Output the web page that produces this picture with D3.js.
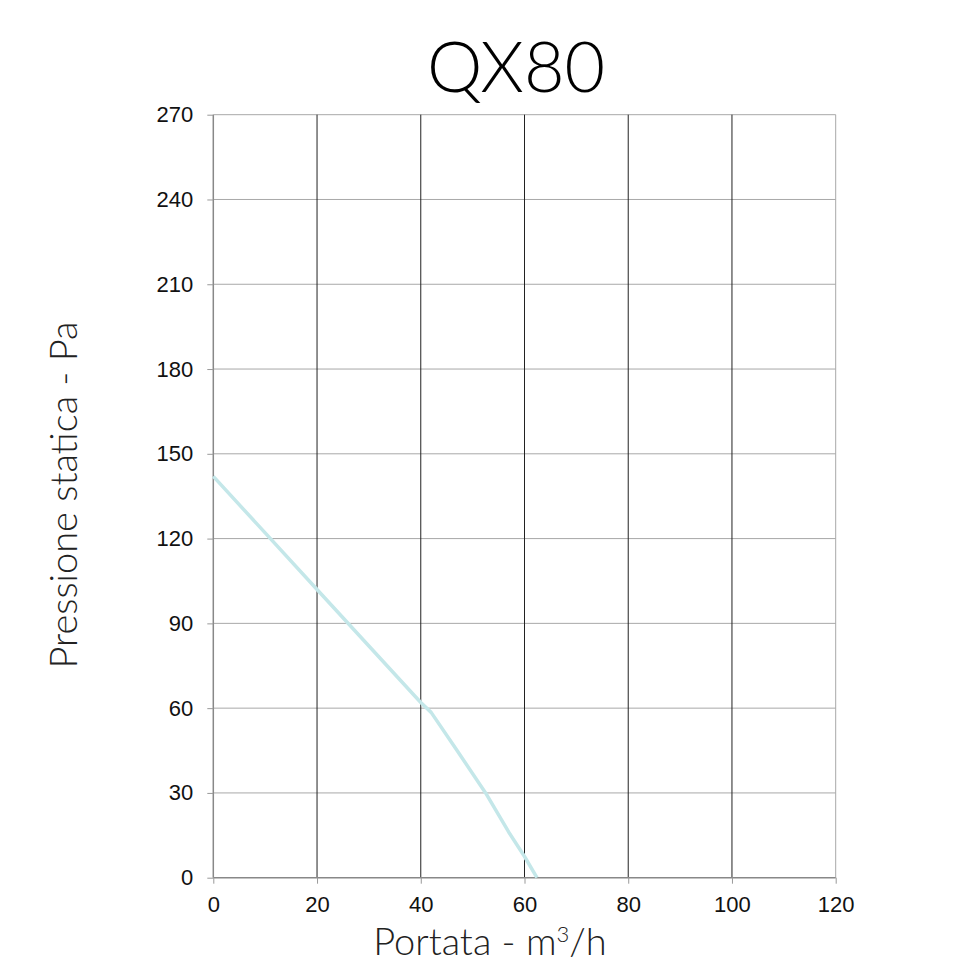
<!DOCTYPE html>
<html><head><meta charset="utf-8">
<script src="https://cdn.jsdelivr.net/npm/d3@7"></script>
<style>
html,body{margin:0;padding:0;background:#fff;}
svg{display:block;}
</style></head>
<body>
<svg id="c" width="980" height="980"></svg>
<script>
const title = "QX80";
const xLabel = "Portata - m";
const yLabel = "Pressione statica - Pa";
const xTicks = [0, 20, 40, 60, 80, 100, 120];
const yTicks = [0, 30, 60, 90, 120, 150, 180, 210, 240, 270];
const flow = [0, 10, 20, 30, 40, 42, 47, 52.5, 57, 60, 62.4];
const pressure = [142, 122, 102, 82, 62, 58.5, 45, 30, 16, 7.5, 0];

const svg = d3.select("#c");
const m = {l: 213.3, r: 835.7, t: 114.7, b: 877.7};
const x = d3.scaleLinear().domain([0, 120]).range([m.l, m.r]);
const y = d3.scaleLinear().domain([0, 270]).range([m.b, m.t]);

// horizontal grid
svg.append("g").selectAll("line").data(yTicks.filter(d => d > 0)).join("line")
  .attr("x1", m.l).attr("x2", m.r).attr("y1", d => y(d)).attr("y2", d => y(d))
  .attr("stroke", "#a8a8a8").attr("stroke-width", 1);
// vertical grid
svg.append("g").selectAll("line").data(xTicks.filter(d => d > 0 && d < 120)).join("line")
  .attr("y1", m.t).attr("y2", m.b).attr("x1", d => x(d)).attr("x2", d => x(d))
  .attr("stroke", "#222").attr("stroke-width", 1);
// right border
svg.append("line").attr("x1", x(120)).attr("x2", x(120)).attr("y1", m.t).attr("y2", m.b)
  .attr("stroke", "#a8a8a8").attr("stroke-width", 1);

// axes
const yAxis = svg.append("g").attr("transform", `translate(${m.l},0)`)
  .call(d3.axisLeft(y).tickValues(yTicks).tickSize(6).tickPadding(14));
const xAxis = svg.append("g").attr("transform", `translate(0,${m.b})`)
  .call(d3.axisBottom(x).tickValues(xTicks).tickSize(6).tickPadding(13));
[yAxis, xAxis].forEach(a => {
  a.select(".domain").attr("stroke", "#888").attr("stroke-width", 1.5);
  a.selectAll(".tick line").attr("stroke", "#999");
  a.selectAll(".tick text").attr("fill", "#111")
    .style("font-family", "'Liberation Sans', Arial, sans-serif").style("font-size", "22px");
});
xAxis.select(".domain").attr("d", `M${m.l},0H${m.r}`);
yAxis.select(".domain").attr("d", `M0,${m.b}V${m.t}`);

// curve
const pts = flow.map((f, i) => [f, pressure[i]]);
svg.append("path").datum(pts)
  .attr("fill", "none").attr("stroke", "#c4e7e9").attr("stroke-width", 3.5)
  .attr("stroke-linejoin", "round")
  .attr("d", d3.line().x(d => x(d[0])).y(d => y(d[1])));

// title
svg.append("text").attr("x", 516).attr("y", 92).attr("text-anchor", "middle")
  .style("font-family", "Lato, 'Open Sans', sans-serif").style("font-weight", 300)
  .style("font-size", "70px").attr("fill", "#000").text(title);

// x label
const xl = svg.append("text").attr("x", 490).attr("y", 955).attr("text-anchor", "middle")
  .style("font-family", "Lato, 'Open Sans', sans-serif").style("font-weight", 300)
  .style("font-size", "38px").attr("fill", "#222");
xl.append("tspan").text(xLabel);
xl.append("tspan").attr("dy", -13).style("font-size", "22px").text("3");
xl.append("tspan").attr("dy", 13).text("/h");

// y label
svg.append("text").attr("transform", "translate(77,495) rotate(-90)").attr("text-anchor", "middle")
  .style("font-family", "Lato, 'Open Sans', sans-serif").style("font-weight", 300)
  .style("font-size", "38px").attr("fill", "#222").text(yLabel);
</script>
</body></html>
